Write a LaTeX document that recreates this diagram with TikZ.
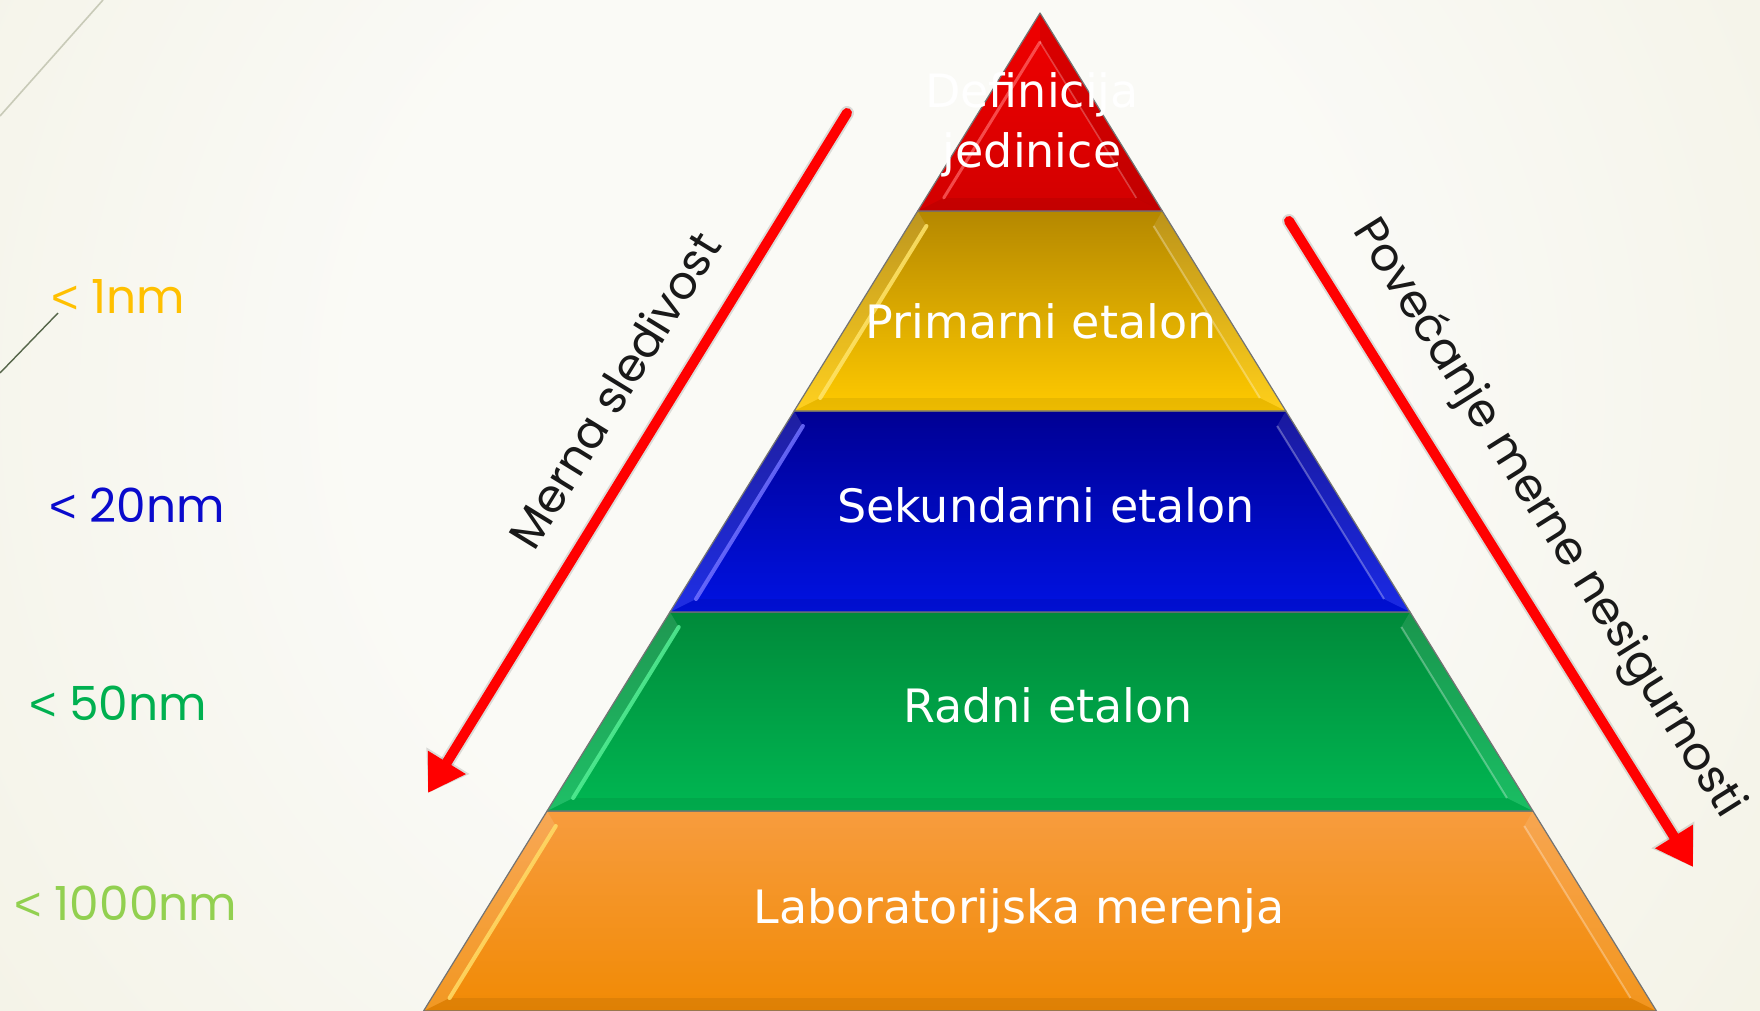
\documentclass[tikz,border=0pt]{standalone}
\usepackage{fontspec}
\setmainfont{DejaVu Sans}
\newfontfamily\pyrfont{DejaVu Sans}
\newfontfamily\gothfont{Poppins}
\newfontfamily\ltfont{Liberation Sans}
\usetikzlibrary{arrows.meta}
\definecolor{bgin}{HTML}{FAFAF6}
\definecolor{bgout}{HTML}{ECE9D3}
\definecolor{redT}{HTML}{F00000}\definecolor{redB}{HTML}{D20000}\definecolor{redH}{HTML}{FF6A6A}
\definecolor{yelT}{HTML}{B58800}\definecolor{yelB}{HTML}{FFCA00}\definecolor{yelH}{HTML}{FFE46A}
\definecolor{bluT}{HTML}{000094}\definecolor{bluB}{HTML}{0012E2}\definecolor{bluH}{HTML}{7070FF}
\definecolor{grnT}{HTML}{008A3A}\definecolor{grnB}{HTML}{00B752}\definecolor{grnH}{HTML}{55EE95}
\definecolor{orgT}{HTML}{F79C3E}\definecolor{orgB}{HTML}{F18A04}\definecolor{orgH}{HTML}{FFDC66}
\definecolor{lab1}{HTML}{FFC000}\definecolor{lab2}{HTML}{0A0ACC}
\definecolor{lab3}{HTML}{00B050}\definecolor{lab4}{HTML}{92D050}
\definecolor{decoA}{HTML}{C8CAB8}\definecolor{decoB}{HTML}{56664A}
\definecolor{arrred}{HTML}{FF0000}
\pgfdeclareradialshading{bgshade}{\pgfpoint{0bp}{0bp}}{color(0bp)=(bgin); color(9bp)=(bgin); color(33bp)=(bgout); color(50bp)=(bgout)}
\newcommand\pyrlayer[5]{%
  \pgfmathsetmacro\plxlt{1040-0.6177*(#1-13)}%
  \pgfmathsetmacro\plxrt{1040+0.6177*(#1-13)}%
  \pgfmathsetmacro\plxlb{1040-0.6177*(#2-13)}%
  \pgfmathsetmacro\plxrb{1040+0.6177*(#2-13)}%
  \pgfmathsetmacro\plyit{#1+15}%
  \pgfmathsetmacro\plyib{#2-13}%
  \pgfmathsetmacro\plxlit{1040-0.6177*(\plyit-13)+18}%
  \pgfmathsetmacro\plxrit{1040+0.6177*(\plyit-13)-18}%
  \pgfmathsetmacro\plxlib{1040-0.6177*(\plyib-13)+18}%
  \pgfmathsetmacro\plxrib{1040+0.6177*(\plyib-13)-18}%
  \shade[top color=#3, bottom color=#4] (\plxlt,#1) -- (\plxrt,#1) -- (\plxrb,#2) -- (\plxlb,#2) -- cycle;
  \fill[white, opacity=0.12] (\plxlt,#1) -- (\plxlit,\plyit) -- (\plxlib,\plyib) -- (\plxlb,#2) -- cycle;
  \fill[white, opacity=0.10] (\plxrt,#1) -- (\plxrit,\plyit) -- (\plxrib,\plyib) -- (\plxrb,#2) -- cycle;
  \fill[black, opacity=0.07] (\plxlb,#2) -- (\plxlib,\plyib) -- (\plxrib,\plyib) -- (\plxrb,#2) -- cycle;
  \draw[#5, line width=2pt, line cap=round, opacity=0.85] (\plxlit,\plyit) -- (\plxlib,\plyib);
  \draw[white, line width=1pt, opacity=0.3] (\plxrit,\plyit) -- (\plxrib,\plyib);
  \draw[black!55, line width=0.6pt, line join=round] (\plxlt,#1) -- (\plxrt,#1) -- (\plxrb,#2) -- (\plxlb,#2) -- cycle;
}
\newcommand\lt{{\ltfont<}}
\tikzset{
  pyrtext/.style={text=white, font=\pyrfont\fontsize{23}{28}\selectfont, anchor=base, inner sep=0pt},
  sidelabel/.style={font=\gothfont\fontsize{23.5}{28}\selectfont, anchor=base, inner sep=0pt},
  difftext/.style={font=\gothfont\fontsize{23}{28}\selectfont, inner sep=0pt, text={rgb,255:red,25;green,25;blue,25}},
  redarrow/.style={draw=arrred, line width=5pt, line cap=round, -{Triangle[length=18pt,width=21pt]}},
  arrshadow/.style={draw=black, line width=7pt, line cap=round, opacity=0.12, -{Triangle[length=19pt,width=24pt]}},
}
\begin{document}
\begin{tikzpicture}[x=0.5pt, y=-0.5pt]
\path[use as bounding box] (0,0) rectangle (1760,1011);
% background
\fill[bgout] (0,0) rectangle (1760,1011);
\begin{scope}
  \clip (0,0) rectangle (1760,1011);
  \shade[shading=bgshade] (860,400) circle (700pt);
\end{scope}
% decorative lines
\draw[decoA, line width=0.8pt] (0,116) -- (103,0);
\draw[decoB, line width=0.7pt] (58,313) -- (0,373);

% pyramid layers
\pyrlayer{811}{1011}{orgT}{orgB}{orgH}
\pyrlayer{612}{811}{grnT}{grnB}{grnH}
\pyrlayer{411}{612}{bluT}{bluB}{bluH}
\pyrlayer{211}{411}{yelT}{yelB}{yelH}
% apex triangle
\shade[top color=redT, bottom color=redB] (1040,13) -- (1162.3,211) -- (917.7,211) -- cycle;
\fill[black, opacity=0.08] (1040,13) -- (1162.3,211) -- (1136.3,198) -- (1040,42) -- cycle;
\fill[black, opacity=0.07] (917.7,211) -- (943.7,198) -- (1136.3,198) -- (1162.3,211) -- cycle;
\draw[redH, line width=1.5pt, line cap=round, opacity=0.7] (1040,42) -- (943.7,198);
\draw[white, line width=0.8pt, opacity=0.25] (1040,42) -- (1136.3,198);
\draw[black!55, line width=0.6pt, line join=round] (1040,13) -- (1162.3,211) -- (917.7,211) -- cycle;

% pyramid texts
\node[pyrtext] (def) at (1032,108) {Definicija};
\node[pyrtext] (jed) at (1032,167) {jedinice};
\node[pyrtext] (prim) at (1041,338) {Primarni etalon};
\node[pyrtext] (sek) at (1046,522) {Sekundarni etalon};
\node[pyrtext] (rad) at (1048,722) {Radni etalon};
\node[pyrtext] (lab) at (1019,923) {Laboratorijska merenja};

% side labels
\node[sidelabel, text=lab1] (n1) at (118,313) {\lt{} 1nm};
\node[sidelabel, text=lab2] (n2) at (137,522) {\lt{} 20nm};
\node[sidelabel, text=lab3] (n3) at (118,720) {\lt{} 50nm};
\node[sidelabel, text=lab4] (n4) at (126,920) {\lt{} 1000nm};

% arrows
\coordinate (la0) at (847,113);
\coordinate (la1) at (428,793);
\coordinate (ra0) at (1289,221);
\coordinate (ra1) at (1693,867);
\draw[arrshadow, shift={(7,8)}] (la0) -- (la1);
\draw[arrshadow, shift={(7,8)}] (ra0) -- (ra1);
\draw[redarrow] (la0) -- (la1);
\draw[redarrow] (ra0) -- (ra1);

% rotated labels
\node[difftext, rotate=58.4] (ms) at (614,390) {Merna sledivost};
\node[difftext, rotate=-57.9] (pm) at (1547,519) {Povećanje merne nesigurnosti};
\end{tikzpicture}
\end{document}
